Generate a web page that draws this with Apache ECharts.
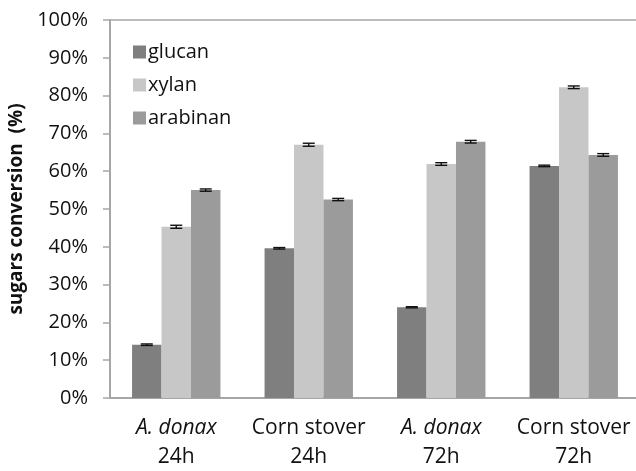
<!DOCTYPE html>
<html>
<head>
<meta charset="utf-8">
<script src="https://cdn.jsdelivr.net/npm/echarts@6/dist/echarts.min.js"></script>
<style>
  html, body { margin: 0; padding: 0; background: #fff; }
  #chart { width: 636px; height: 471px; }
</style>
</head>
<body>
<div id="chart"></div>
<script>
// Substrate / time groups (first line may be italic species name)
const categoryNames = ['A. donax', 'Corn stover', 'A. donax', 'Corn stover'];
const categoryTimes = ['24h', '24h', '72h', '72h'];
const categoryItalic = [true, false, true, false];

const seriesNames = ['glucan', 'xylan', 'arabinan'];
const glucan   = [14.1, 39.6, 24.0, 61.4];
const xylan    = [45.3, 67.0, 61.9, 82.2];
const arabinan = [55.0, 52.5, 67.8, 64.3];

const glucanErr   = [0.2, 0.2, 0.15, 0.2];
const xylanErr    = [0.4, 0.4, 0.35, 0.35];
const arabinanErr = [0.3, 0.3, 0.35, 0.35];

const yTicks = [0, 10, 20, 30, 40, 50, 60, 70, 80, 90, 100];

const colors = ['#7f7f7f', '#c6c7c6', '#9a9b9a'];
const values = [glucan, xylan, arabinan];
const errors = [glucanErr, xylanErr, arabinanErr];
const catGapPct = 0.333;
const font = '"Open Sans", "Noto Sans", sans-serif';

const chart = echarts.init(document.getElementById('chart'), null, { renderer: 'canvas' });

const barSeries = seriesNames.map((name, i) => ({
  name: name,
  type: 'bar',
  data: values[i],
  itemStyle: { color: colors[i] },
  barGap: '0%',
  barCategoryGap: (catGapPct * 100) + '%'
}));

// Error bars, offset to the centre of each bar in a group
const errSeries = seriesNames.map((name, i) => ({
  type: 'custom',
  name: name + ' err',
  z: 5,
  silent: true,
  data: values[i].map((v, k) => [k, v - errors[i][k], v + errors[i][k]]),
  renderItem: function (params, api) {
    const band = api.size([1, 0])[0];
    const bw = band * (1 - catGapPct) / 3;
    const off = (i - 1) * bw;
    const lo = api.coord([api.value(0), api.value(1)]);
    const hi = api.coord([api.value(0), api.value(2)]);
    const x = lo[0] + off;
    const cap = 6;
    const style = { stroke: '#111', lineWidth: 1.4 };
    return {
      type: 'group',
      children: [
        { type: 'line', shape: { x1: x, y1: lo[1], x2: x, y2: hi[1] }, style: style },
        { type: 'line', shape: { x1: x - cap, y1: lo[1], x2: x + cap, y2: lo[1] }, style: style },
        { type: 'line', shape: { x1: x - cap, y1: hi[1], x2: x + cap, y2: hi[1] }, style: style }
      ]
    };
  }
}));

const option = {
  animation: false,
  textStyle: { fontFamily: font },
  grid: { left: 110, top: 20, bottom: 73, right: -4, containLabel: false, outerBoundsMode: 'none' },
  legend: {
    data: seriesNames,
    orient: 'vertical',
    left: 128,
    top: 37,
    itemWidth: 13,
    itemHeight: 13,
    itemGap: 13,
    icon: 'rect',
    textStyle: { fontSize: 20, color: '#111', fontFamily: font, padding: [0, 0, 0, -3] }
  },
  xAxis: [{
    type: 'category',
    data: categoryNames.map((n, k) => k),
    axisLine: { lineStyle: { color: '#a6a6a6', width: 2 } },
    axisTick: { show: false },
    axisLabel: {
      margin: 16,
      formatter: function (v) {
        const k = +v;
        const first = categoryItalic[k] ? '{it|' + categoryNames[k] + '}' : '{n|' + categoryNames[k] + '}';
        return first + '\n{n|' + categoryTimes[k] + '}';
      },
      rich: {
        it: { fontSize: 21, fontStyle: 'italic', color: '#111', fontFamily: font, lineHeight: 29 },
        n: { fontSize: 21, color: '#111', fontFamily: font, lineHeight: 29 }
      }
    }
  }, {
    type: 'category',
    position: 'top',
    data: categoryNames.map((n, k) => k),
    axisLine: { show: true, lineStyle: { color: '#a6a6a6', width: 1.5 } },
    axisTick: { show: false },
    axisLabel: { show: false }
  }],
  yAxis: {
    type: 'value',
    min: yTicks[0],
    max: yTicks[yTicks.length - 1],
    interval: 10,
    name: 'sugars conversion  (%)',
    nameLocation: 'middle',
    nameGap: 80,
    nameTextStyle: { fontSize: 19, fontWeight: 'bold', color: '#111', fontFamily: font },
    axisLine: { show: true, lineStyle: { color: '#a6a6a6', width: 2 } },
    axisTick: { show: true, inside: false, length: 7, lineStyle: { color: '#a6a6a6', width: 1.5 } },
    splitLine: { show: false },
    axisLabel: {
      margin: 22,
      fontSize: 20,
      color: '#111',
      fontFamily: font,
      formatter: v => v + '%'
    }
  },
  series: barSeries.concat(errSeries)
};

chart.setOption(option);
</script>
</body>
</html>
